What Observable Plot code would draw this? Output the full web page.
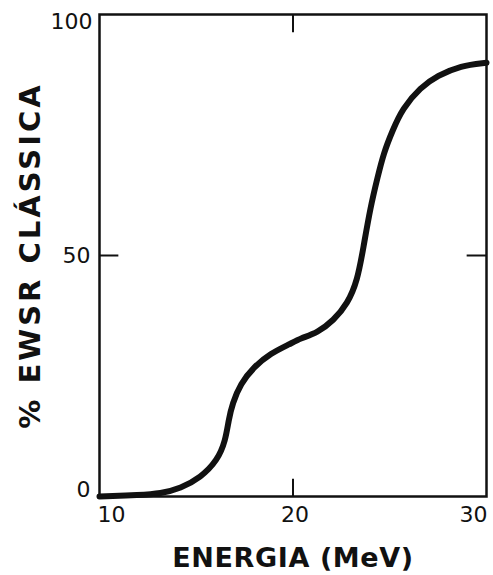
<!DOCTYPE html>
<html>
<head>
<meta charset="utf-8">
<script src="https://cdn.jsdelivr.net/npm/d3@7"></script>
<script src="https://cdn.jsdelivr.net/npm/@observablehq/plot@0.6"></script>
<style>
  html, body { margin: 0; padding: 0; background: #fff; }
  #chart svg { display: block; }
</style>
</head>
<body>
<div id="chart"></div>
<script>
// Data
const energy = [10, 12.1, 13.15, 14.19, 15.22, 16.1, 16.51, 16.67, 16.87, 17.29, 17.96, 18.84, 19.87, 20.39, 21.27, 22.09, 22.82, 23.33, 23.64, 24.0, 24.37, 24.68, 25.14, 25.66, 26.59, 27.47, 28.66, 30];
const ewsr   = [0,  0.3,  0.6,   1.7,   3.9,   7.5,  11.6,  15.8,  19.3,  23.4,  26.8,  29.7,  31.7,  32.8,  34.0,  36.5,  40.0,  44.8,  51.7,  60.0,  66.2,  71.2,  75.9,  80.5,  84.9,  87.3,  89.4,  90.0];

const xTicks = [10, 20, 30];
const yTicks = [0, 50, 100];
const innerXTicks = [20];
const innerYTicks = [50];
const xLabel = "ENERGIA (MeV)";
const yLabel = "% EWSR CLÁSSICA";

const data = energy.map((e, i) => ({e, v: ewsr[i]}));

const tickFont = {fontFamily: "DejaVu Sans", fontSize: 22, fill: "#111"};

const chart = Plot.plot({
  width: 493,
  height: 575,
  marginLeft: 99,
  marginRight: 7,
  marginTop: 14,
  marginBottom: 79,
  style: {fontFamily: "DejaVu Sans", background: "#fff", color: "#111"},
  x: {domain: [10, 30]},
  y: {domain: [0, 100]},
  marks: [
    // x tick labels (split to nudge the end labels like the reference)
    Plot.axisX([xTicks[0]], {tickSize: 0, tickPadding: 10, dx: 12, ...tickFont, label: null}),
    Plot.axisX([xTicks[1]], {tickSize: 0, tickPadding: 10, dx: 2, ...tickFont, label: null}),
    Plot.axisX([xTicks[2]], {tickSize: 0, tickPadding: 10, dx: -13, ...tickFont, label: null}),
    Plot.axisX({ticks: [], tickSize: 0, label: xLabel, labelAnchor: "center", labelArrow: "none", labelOffset: 70, fontSize: 27, fontWeight: "bold", fontFamily: "DejaVu Sans", fill: "#111"}),
    // y tick labels
    Plot.axisY([yTicks[0]], {tickSize: 0, tickPadding: 9, dy: -7, ...tickFont, label: null}),
    Plot.axisY([yTicks[1]], {tickSize: 0, tickPadding: 9, ...tickFont, label: null}),
    Plot.axisY([yTicks[2]], {tickSize: 0, tickPadding: 7, dy: 7, ...tickFont, label: null}),
    Plot.axisY({ticks: [], tickSize: 0, label: yLabel, labelAnchor: "center", labelArrow: "none", labelOffset: 80, fontSize: 29, fontWeight: "bold", fontFamily: "DejaVu Sans", fill: "#111"}),
    // inward ticks
    Plot.ruleX(innerXTicks, {x: d => d, y1: 0, y2: 3.6, stroke: "#111", strokeWidth: 2}),
    Plot.ruleX(innerXTicks, {x: d => d, y1: 96.2, y2: 100, stroke: "#111", strokeWidth: 2}),
    Plot.ruleY(innerYTicks, {y: d => d, x1: 10, x2: 11, stroke: "#111", strokeWidth: 2}),
    Plot.ruleY(innerYTicks, {y: d => d, x1: 29, x2: 30, stroke: "#111", strokeWidth: 2}),
    Plot.line(data, {x: "e", y: "v", curve: "basis", stroke: "#111", strokeWidth: 6, strokeLinecap: "round", strokeLinejoin: "round"}),
    Plot.frame({stroke: "#111", strokeWidth: 2.5})
  ]
});

// spacing of the axis titles to match the reference's wide lettering
d3.select(chart).selectAll('g[aria-label="y-axis label"] text').attr("letter-spacing", "3px");
d3.select(chart).selectAll('g[aria-label="x-axis label"] text').attr("letter-spacing", "0.6px");

document.getElementById("chart").appendChild(chart);
</script>
</body>
</html>
